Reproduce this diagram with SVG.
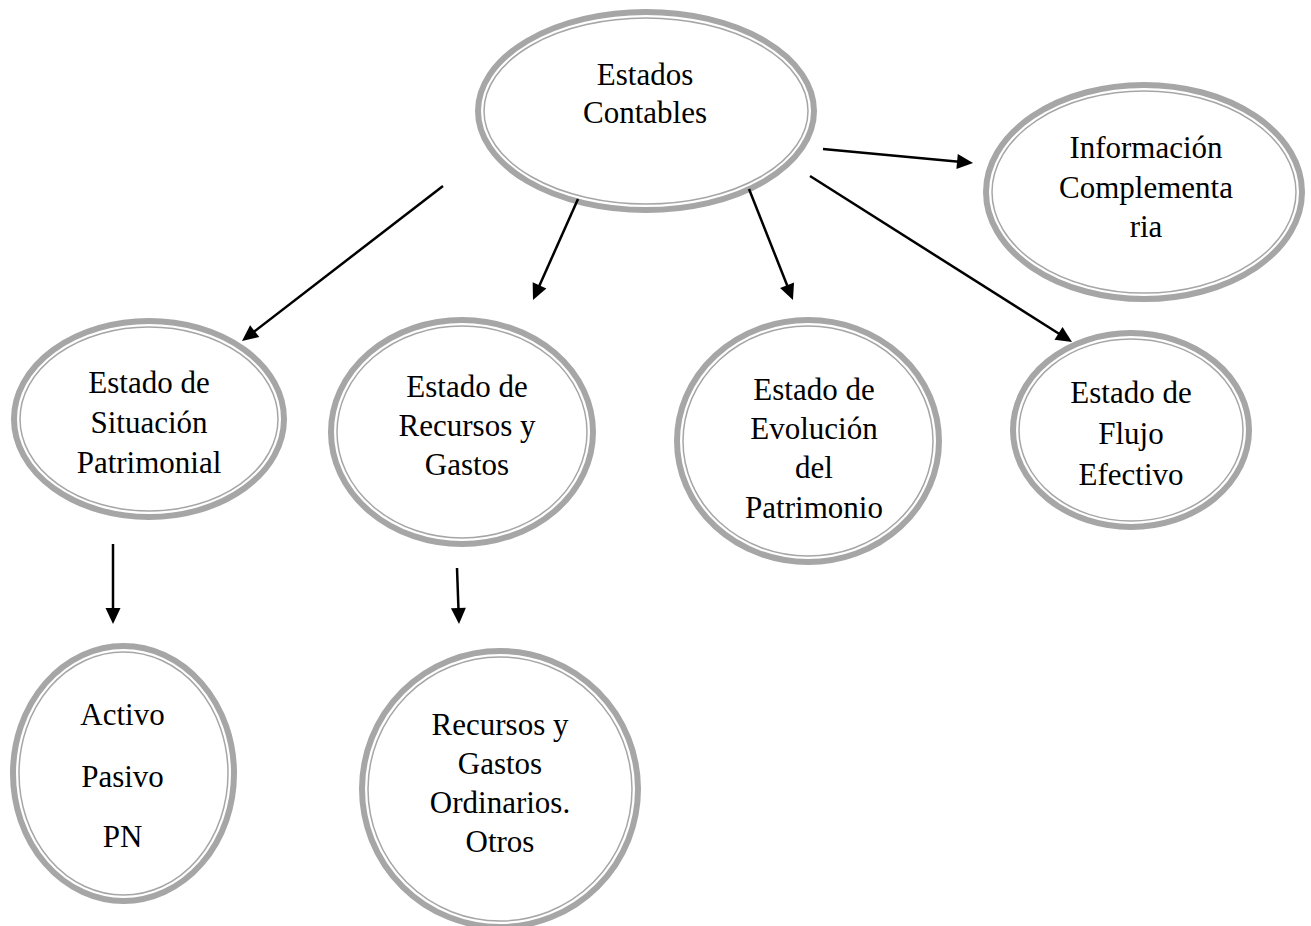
<svg xmlns="http://www.w3.org/2000/svg" width="1311" height="926" viewBox="0 0 1311 926">
<style>
.o{fill:#fff;stroke:#a6a6a6;stroke-width:6}
.i{fill:none;stroke:#a6a6a6;stroke-width:1.5}
text{font-family:"Liberation Serif","Times New Roman",serif;font-size:31px;fill:#000;text-anchor:middle}
.c{stroke:#000;stroke-width:2.5;fill:none;marker-end:url(#ah)}
</style>
<defs>
<marker id="ah" markerUnits="userSpaceOnUse" markerWidth="16" markerHeight="15" refX="2" refY="7.5" orient="auto" overflow="visible">
<path d="M0,0 L16,7.5 L0,15 z" fill="#000"/>
</marker>
</defs>
<rect width="1311" height="926" fill="#fff"/>
<g id="n-estados">
<ellipse class="o" cx="646" cy="111" rx="168" ry="99"/>
<ellipse class="i" cx="646" cy="111" rx="162" ry="93"/>
<text x="645" y="85">Estados</text>
<text x="645" y="123">Contables</text>
</g>
<g id="n-info">
<ellipse class="o" cx="1144" cy="192" rx="158" ry="107"/>
<ellipse class="i" cx="1144" cy="192" rx="152" ry="101"/>
<text x="1146" y="158">Información</text>
<text x="1146" y="198">Complementa</text>
<text x="1146" y="237">ria</text>
</g>
<g id="n-situacion">
<ellipse class="o" cx="149" cy="419" rx="135" ry="98"/>
<ellipse class="i" cx="149" cy="419" rx="129" ry="92"/>
<text x="149" y="393">Estado de</text>
<text x="149" y="433">Situación</text>
<text x="149" y="473">Patrimonial</text>
</g>
<g id="n-recursos">
<ellipse class="o" cx="462" cy="432" rx="131" ry="112"/>
<ellipse class="i" cx="462" cy="432" rx="125" ry="106"/>
<text x="467" y="397">Estado de</text>
<text x="467" y="436">Recursos y</text>
<text x="467" y="475">Gastos</text>
</g>
<g id="n-evolucion">
<ellipse class="o" cx="808" cy="441" rx="131" ry="121"/>
<ellipse class="i" cx="808" cy="441" rx="125" ry="115"/>
<text x="814" y="400">Estado de</text>
<text x="814" y="439">Evolución</text>
<text x="814" y="478">del</text>
<text x="814" y="518">Patrimonio</text>
</g>
<g id="n-flujo">
<ellipse class="o" cx="1131" cy="430" rx="118" ry="97"/>
<ellipse class="i" cx="1131" cy="430" rx="112" ry="91"/>
<text x="1131" y="403">Estado de</text>
<text x="1131" y="444">Flujo</text>
<text x="1131" y="485">Efectivo</text>
</g>
<g id="n-activo">
<ellipse class="o" cx="123.5" cy="773.5" rx="110.5" ry="127.5"/>
<ellipse class="i" cx="123.5" cy="773.5" rx="104.5" ry="121.5"/>
<text x="122.5" y="725">Activo</text>
<text x="122.5" y="787">Pasivo</text>
<text x="122.5" y="847">PN</text>
</g>
<g id="n-ordinarios">
<ellipse class="o" cx="500" cy="789" rx="138" ry="138"/>
<ellipse class="i" cx="500" cy="789" rx="132" ry="132"/>
<text x="500" y="735">Recursos y</text>
<text x="500" y="774">Gastos</text>
<text x="500" y="813">Ordinarios.</text>
<text x="500" y="852">Otros</text>
</g>
<g id="connectors">
<line class="c" x1="443" y1="186" x2="253.1" y2="332.4"/>
<line class="c" x1="578" y1="199" x2="538.7" y2="287.2"/>
<line class="c" x1="749" y1="189" x2="787.8" y2="287"/>
<line class="c" x1="823" y1="149" x2="959.1" y2="161.7"/>
<line class="c" x1="810" y1="176" x2="1060.2" y2="334.5"/>
<line class="c" x1="113" y1="544" x2="113" y2="610"/>
<line class="c" x1="457" y1="568" x2="458.5" y2="610"/>
</g>
</svg>
